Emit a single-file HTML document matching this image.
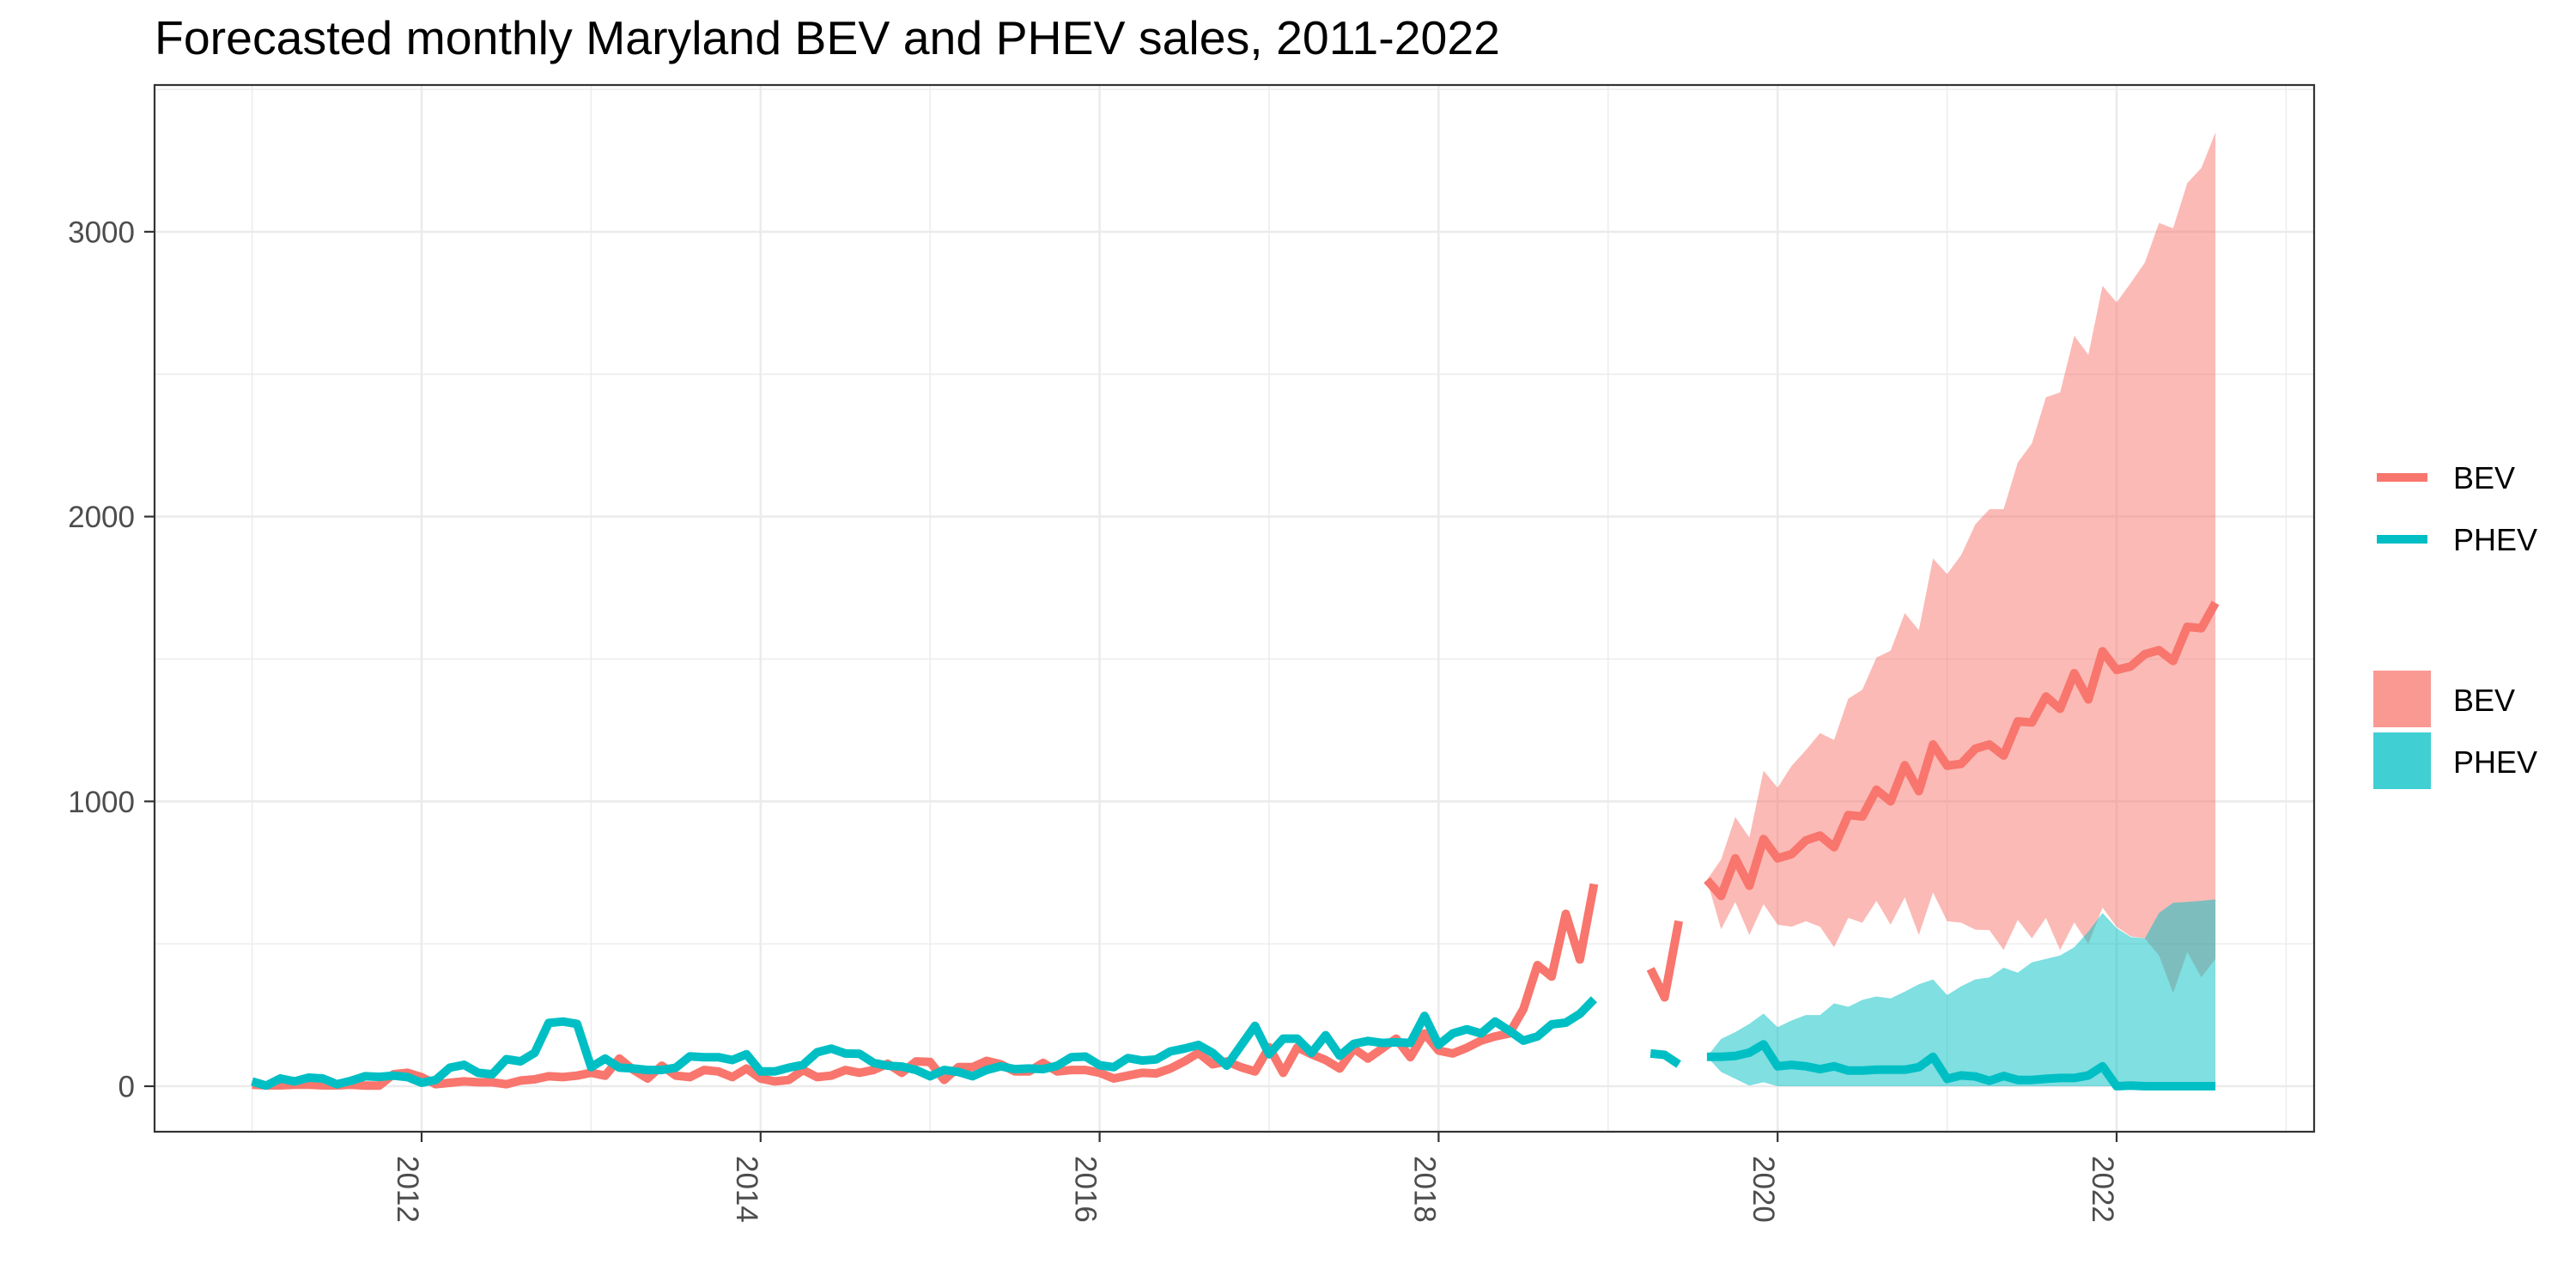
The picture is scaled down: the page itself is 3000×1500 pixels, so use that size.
<!DOCTYPE html>
<html><head><meta charset="utf-8"><title>Forecasted monthly Maryland BEV and PHEV sales</title>
<style>html,body{margin:0;padding:0;background:#fff;}svg{display:block;font-family:"Liberation Sans",Arial,sans-serif;}</style>
</head><body>
<svg id="chart" width="3000" height="1500" viewBox="0 0 3000 1500" xmlns="http://www.w3.org/2000/svg">
<rect x="0" y="0" width="3000" height="1500" fill="#fff"/>
<text x="180" y="63" font-size="55" fill="#000" textLength="1567" lengthAdjust="spacingAndGlyphs">Forecasted monthly Maryland BEV and PHEV sales, 2011-2022</text>
<g id="grid"></g>
<g id="bands"></g>
<g id="lines"></g>
<rect x="180" y="99" width="2515" height="1219" fill="none" stroke="#333" stroke-width="2.2"/>
<g id="axes"></g>
<g>
<line x1="2768" y1="556" x2="2827" y2="556" stroke="#F8766D" stroke-width="10"/>
<text x="2857" y="569" font-size="36" fill="#000">BEV</text>
<line x1="2768" y1="628" x2="2827" y2="628" stroke="#00BFC4" stroke-width="10"/>
<text x="2857" y="641" font-size="36" fill="#000">PHEV</text>
</g>
<g>
<rect x="2764" y="781" width="67" height="66" fill="#F8766D" fill-opacity="0.75"/>
<text x="2857" y="828" font-size="36" fill="#000">BEV</text>
<rect x="2764" y="853" width="67" height="66" fill="#00BFC4" fill-opacity="0.75"/>
<text x="2857" y="900" font-size="36" fill="#000">PHEV</text>
</g>
</svg>
<script>
// observed monthly sales Jan 2011 - Dec 2018
const bevObs = [5,3,3,5,5,3,3,5,2,2,42,47, 32,7,12,17,14,14,7,20,24,35,32,37, 47,37,97,57,27,72,37,32,57,52,32,62, 27,17,22,57,32,37,57,47,57,79,47,87, 85,22,67,67,89,77,52,52,82,52,57,57, 47,27,37,47,45,62,87,117,77,87,67,52, 137,47,137,112,92,62,132,97,132,167,102,185, 125,115,135,160,175,185,270,425,385,605,445,710];
const phevObs = [17,2,27,17,30,27,7,19,35,33,37,32, 12,22,65,75,47,42,95,87,117,222,227,219, 67,97,65,62,57,57,65,105,102,102,92,112, 52,52,65,75,119,132,115,114,82,72,69,57, 35,57,50,35,57,70,60,62,60,72,102,104, 74,67,99,90,94,122,132,145,117,72,142,212, 112,167,167,117,179,107,149,159,152,154,152,247, 145,185,200,185,227,195,160,175,217,223,254,305];
// Apr - Jun 2019
const bev2019 = [412,312,580];
const phev2019 = [115,110,77];
// forecast Aug 2019 - Aug 2022
const bevFc = [724,668,800,704,868,800,815,863,880,839,952,947,1041,1000,1127,1036,1200,1125,1132,1185,1200,1161,1281,1277,1368,1325,1450,1358,1527,1462,1474,1517,1531,1493,1613,1608,1697];
const bevHi = [724,796,945,873,1108,1048,1125,1180,1240,1216,1361,1392,1505,1529,1661,1601,1853,1798,1865,1973,2026,2026,2190,2257,2419,2436,2635,2568,2810,2752,2820,2892,3031,3012,3171,3224,3349];
const bevLo = [724,551,647,531,639,567,560,579,560,488,591,574,651,567,663,531,680,579,574,550,548,478,584,519,591,478,575,500,627,560,526,519,459,327,471,382,447];
const phevFc = [103,103,106,118,147,70,75,70,60,70,55,55,58,58,58,67,103,26,38,34,19,36,22,22,26,29,29,38,70,0,2,0,0,0,0,0,0];
const phevHi = [103,166,190,219,255,207,231,250,250,291,279,303,315,308,332,358,375,320,351,375,382,416,399,435,447,459,488,543,608,555,524,519,608,644,647,651,656];
const phevLo = [103,50,26,2,14,0,0,0,0,0,0,0,0,0,0,0,0,0,0,0,0,0,0,0,0,0,0,0,0,0,0,0,0,0,0,0,0];
const yTicks = [0,1000,2000,3000];
const yMinor = [500,1500,2500,3500];
const xTicks = [2012,2014,2016,2018,2020,2022];
const xMinor = [2011,2013,2015,2017,2019,2021,2023];

const NS = "http://www.w3.org/2000/svg";
const X0 = 491, PXY = 197.4, Y0 = 1265, PXV = 0.3317;
const L = 180, R = 2695, T = 99, B = 1318;
function xYear(y){ return X0 + (y - 2012) * PXY; }
function xMonth(i){ return xYear(2011 + i / 12); }
function yVal(v){ return Y0 - v * PXV; }
function mk(tag, attrs, parent){ const e = document.createElementNS(NS, tag); for (const k in attrs) e.setAttribute(k, attrs[k]); parent.appendChild(e); return e; }

const grid = document.getElementById('grid');
yMinor.forEach(v => { const e = mk('line', {x1:L, x2:R, y1:yVal(v), y2:yVal(v), stroke:'#ebebeb', 'stroke-width':1.4}, grid);
    });
xMinor.forEach(v => { const e = mk('line', {x1:xYear(v), x2:xYear(v), y1:T, y2:B, stroke:'#ebebeb', 'stroke-width':1.4}, grid);
    });
yTicks.forEach(v => { const e = mk('line', {x1:L, x2:R, y1:yVal(v), y2:yVal(v), stroke:'#ebebeb', 'stroke-width':2.6}, grid);
    });
xTicks.forEach(v => { const e = mk('line', {x1:xYear(v), x2:xYear(v), y1:T, y2:B, stroke:'#ebebeb', 'stroke-width':2.6}, grid);
    });

const bands = document.getElementById('bands');
function band(lo, hi, start, color, name){
  let d = '';
  hi.forEach((v,j) => { d += (j ? 'L' : 'M') + xMonth(start + j).toFixed(1) + ',' + yVal(v).toFixed(1); });
  for (let j = lo.length - 1; j >= 0; j--) d += 'L' + xMonth(start + j).toFixed(1) + ',' + yVal(lo[j]).toFixed(1);
  const p = mk('path', {d: d + 'Z', fill: color, 'fill-opacity': 0.5, stroke: 'none'}, bands);
  
  
}
const FC_START = 103;
band(bevLo, bevHi, FC_START, '#F8766D', 'bev-forecast-band');
band(phevLo, phevHi, FC_START, '#00BFC4', 'phev-forecast-band');

const lines = document.getElementById('lines');
function line(vals, start, color, name){
  const pts = vals.map((v,j) => xMonth(start + j).toFixed(1) + ',' + yVal(v).toFixed(1)).join(' ');
  const p = mk('polyline', {points: pts, fill:'none', stroke: color, 'stroke-width': 10, 'stroke-linejoin':'round', 'stroke-linecap':'butt'}, lines);
  
  
}
line(bevObs, 0, '#F8766D', 'bev-observed-line');
line(phevObs, 0, '#00BFC4', 'phev-observed-line');
line(bev2019, 99, '#F8766D', 'bev-2019-line');
line(phev2019, 99, '#00BFC4', 'phev-2019-line');
line(bevFc, FC_START, '#F8766D', 'bev-forecast-line');
line(phevFc, FC_START, '#00BFC4', 'phev-forecast-line');

const axes = document.getElementById('axes');
yTicks.forEach(v => {
  const t = mk('line', {x1:168, x2:180, y1:yVal(v), y2:yVal(v), stroke:'#333', 'stroke-width':2.2}, axes);
   
  const l = mk('text', {x:157, y:yVal(v) + 12.5, 'text-anchor':'end', 'font-size':35, fill:'#4d4d4d'}, axes);
  l.textContent = String(v);
   
});
xTicks.forEach(v => {
  const x = xYear(v);
  const t = mk('line', {x1:x, x2:x, y1:B, y2:B + 12, stroke:'#333', 'stroke-width':2.2}, axes);
   
  const bx = x - 28, by = 1346;
  const l = mk('text', {x:bx, y:by, 'font-size':35, fill:'#4d4d4d', transform:'rotate(90 ' + bx + ' ' + by + ')'}, axes);
  l.textContent = String(v);
   
});
</script>
</body></html>
